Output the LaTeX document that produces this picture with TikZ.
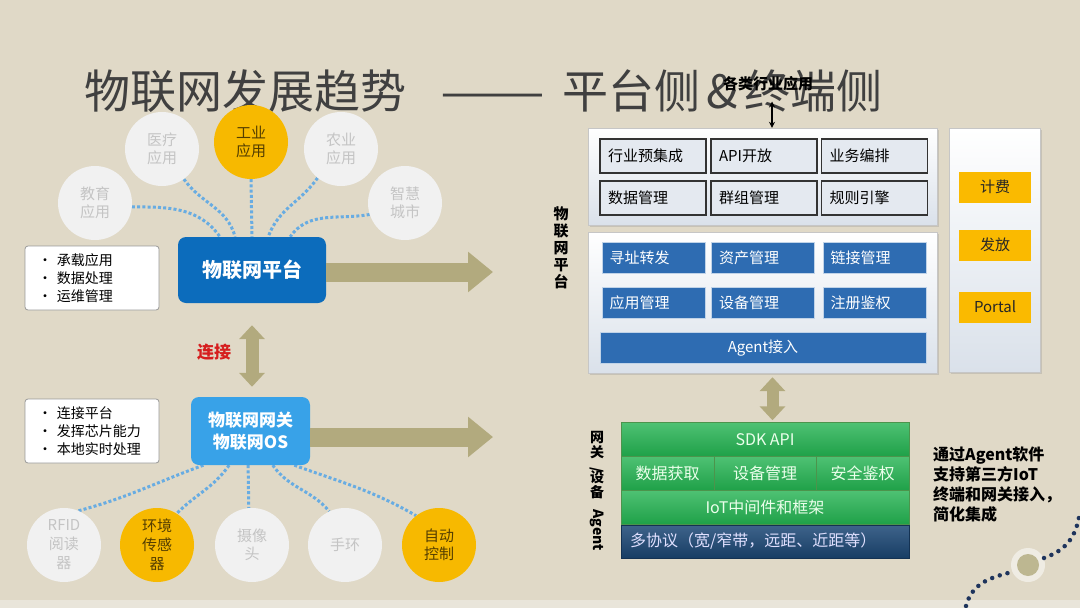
\documentclass[tikz,border=0pt]{standalone}
\usepackage{graphicx}
\usepackage{fontspec}
\setmainfont{Noto Sans CJK SC}
\usetikzlibrary{arrows.meta,shadows,backgrounds}

\definecolor{bgbeige}{RGB}{224,217,199}
\definecolor{bgstrip}{RGB}{233,229,218}
\definecolor{appgray}{RGB}{241,241,241}
\definecolor{apptext}{RGB}{196,196,196}
\definecolor{hotyellow}{RGB}{247,185,0}
\definecolor{hottext}{RGB}{84,62,0}
\definecolor{platblue}{RGB}{12,108,188}
\definecolor{gwblue}{RGB}{56,162,232}
\definecolor{linkblue}{RGB}{104,172,226}
\definecolor{khaki}{RGB}{178,170,126}
\definecolor{titlegray}{RGB}{64,64,64}
\definecolor{panelgray}{RGB}{218,225,234}
\definecolor{cellgray}{RGB}{228,233,240}
\definecolor{cellblue}{RGB}{46,108,178}
\definecolor{tagorange}{RGB}{250,186,0}
\definecolor{sdkgreen}{RGB}{34,178,80}
\definecolor{protonavy}{RGB}{28,72,118}
\definecolor{decnavy}{RGB}{30,52,92}
\definecolor{linkred}{RGB}{214,30,30}

\tikzset{
  app/.style={circle, minimum size=74pt, inner sep=0pt, fill=appgray, text=apptext,
    align=center, font=\fontsize{15}{18}\selectfont},
  apphot/.style={app, fill=hotyellow, text=hottext},
  hub/.style={rounded corners=8pt, text=white, align=center, inner sep=0pt},
  notes/.style={draw=gray!80, fill=white, rounded corners=3pt, line width=0.8pt,
    minimum width=134pt, minimum height=64pt, inner xsep=13pt, text width=108pt,
    align=left, font=\fontsize{14}{18}\selectfont},
  link/.style={draw=linkblue, line width=3pt, dash pattern=on 3pt off 2.2pt},
  bigarrow/.style={draw=khaki, line width=19pt, -{Triangle[length=25pt,width=39pt]}},
  dblarrow/.style={draw=khaki, line width=13pt,
    {Triangle[length=14pt,width=25pt]}-{Triangle[length=14pt,width=25pt]}},
  panel/.style={draw=gray!45, top color=white, bottom color=panelgray,
    drop shadow={opacity=0.25, shadow xshift=2pt, shadow yshift=-2pt}},
  cellbox/.style={draw=black!80, line width=1.2pt, fill=cellgray, minimum width=106pt,
    minimum height=34pt, text width=90pt, align=left, font=\fontsize{15}{18}\selectfont},
  bluebox/.style={draw=white!70!cellblue, fill=cellblue, text=white, minimum width=103pt,
    minimum height=31pt, text width=88pt, align=left, font=\fontsize{15}{18}\selectfont},
  tagbox/.style={fill=tagorange, text=black!85, minimum width=72pt, minimum height=31pt,
    font=\fontsize{15}{18}\selectfont},
  sdkbox/.style={draw=green!40!black!70, top color=sdkgreen!80!white, bottom color=sdkgreen!90!black,
    text=white!92!green, minimum height=34pt, font=\fontsize{16}{19}\selectfont},
}

\begin{document}
\begin{tikzpicture}[x=1pt, y=-1pt]
  \useasboundingbox (0,0) rectangle (1080,608);
  \begin{scope}[on background layer]
    \fill[bgbeige] (0,0) rectangle (1080,608);
    \fill[bgstrip] (0,600) rectangle (1080,608);
  \end{scope}

  % Title
  \node[anchor=base west, inner sep=0pt, text=titlegray, font=\fontsize{46}{50}\selectfont]
    (title) at (84,108)
    {物联网发展趋势\hspace{34pt}\scalebox{1.36}[1]{——}\hspace{17pt}平台侧\hspace{6pt}\&\hspace{7pt}终端侧};

  % Application circles
  \node[app] (edu) at (95,203) {教育\\应用};
  \node[app] (med) at (162,149) {医疗\\应用};
  \node[apphot] (ind) at (251,142) {工业\\应用};
  \node[app] (agr) at (341,149) {农业\\应用};
  \node[app] (city) at (405,203) {智慧\\城市};

  % IoT platform
  \node[hub, fill=platblue, minimum width=148pt, minimum height=66pt,
    font=\bfseries\fontsize{20}{24}\selectfont] (plat) at (252,270) {物联网平台};
  \node[notes] (platnotes) at (92,278)
    {\makebox[19pt][l]{•}承载应用\\\makebox[19pt][l]{•}数据处理\\\makebox[19pt][l]{•}运维管理};

  % Gateway
  \node[hub, fill=gwblue, minimum width=119pt, minimum height=68pt,
    font=\bfseries\fontsize{17}{22}\selectfont] (gw) at (250.5,431) {物联网网关\\物联网OS};
  \node[notes] (gwnotes) at (92,431)
    {\makebox[19pt][l]{•}连接平台\\\makebox[19pt][l]{•}发挥芯片能力\\\makebox[19pt][l]{•}本地实时处理};

  \node[text=linkred, font=\bfseries\fontsize{17}{20}\selectfont] (conn) at (214,352) {连接};

  % Device circles
  \node[app, font=\fontsize{15}{19}\selectfont] (rfid) at (64,545) {RFID\\阅读\\器};
  \node[apphot, font=\fontsize{15}{19}\selectfont] (env) at (157,545) {环境\\传感\\器};
  \node[app] (cam) at (252,545) {摄像\\头};
  \node[app] (band) at (345,545) {手环};
  \node[apphot] (auto) at (439,545) {自动\\控制};

  % Dotted links
  \begin{scope}[on background layer]
    \draw[link] (edu.354) to[out=0, in=125] (plat.134);
    \draw[link] (med.306) to[out=-55, in=105] (plat.117);
    \draw[link] (ind.south) -- (plat.north);
    \draw[link] (agr.231) to[out=235, in=70] (plat.64);
    \draw[link] (city.198) to[out=190, in=55] (plat.41);
    \draw[link] (gw.216) to[out=200, in=15] (rfid.67);
    \draw[link] (gw.238) to[out=235, in=45] (env.58);
    \draw[link] (gw.266) -- (cam.95);
    \draw[link] (gw.303) to[out=-55, in=130] (band.115);
    \draw[link] (gw.322) to[out=-20, in=150] (auto.128);
  \end{scope}

  % Big arrows
  \coordinate (platout) at (493,272);
  \coordinate (gwout) at (493,437);
  \draw[bigarrow] (plat.east |- platout) -- (platout);
  \draw[bigarrow] (gw.east |- gwout) -- (gwout);
  \draw[dblarrow, shorten <=22pt, shorten >=10pt] (plat.south) -- (plat.south |- gw.north);

  % Platform side
  \node[font=\bfseries\fontsize{15}{17}\selectfont, align=center, inner sep=0pt]
    (platlabel) at (561,248) {物\\联\\网\\平\\台};
  \node[panel, minimum width=349pt, minimum height=97pt] (upper) at (762.5,176.5) {};
  \node[panel, minimum width=349pt, minimum height=141pt] (lower) at (762.5,302.5) {};
  \node[panel, minimum width=91pt, minimum height=244pt] (side) at (994.5,250) {};

  \node[cellbox] (c11) at (653,156) {行业预集成};
  \node[cellbox] (c12) at (764,156) {API开放};
  \node[cellbox] (c13) at (874.5,156) {业务编排};
  \node[cellbox] (c21) at (653,198) {数据管理};
  \node[cellbox] (c22) at (764,198) {群组管理};
  \node[cellbox] (c23) at (874.5,198) {规则引擎};

  \node[bluebox] (b11) at (653.5,257.5) {寻址转发};
  \node[bluebox] (b12) at (763,257.5) {资产管理};
  \node[bluebox] (b13) at (874.5,257.5) {链接管理};
  \node[bluebox] (b21) at (653.5,302.5) {应用管理};
  \node[bluebox] (b22) at (763,302.5) {设备管理};
  \node[bluebox] (b23) at (874.5,302.5) {注册鉴权};
  \node[bluebox, minimum width=326pt, text width=310pt, align=center] (agent) at (763,348) {Agent接入};

  \node[tagbox] (bill) at (995,187) {计费};
  \node[tagbox] (issue) at (995,245) {发放};
  \node[tagbox] (portal) at (995,307) {Portal};

  \node[font=\bfseries\fontsize{15}{17}\selectfont, inner sep=0pt] (indapp) at (768,84) {各类行业应用};
  \draw[line width=1.5pt, {Stealth[length=6pt,width=6pt]}-{Stealth[length=6pt,width=6pt]},
    shorten <=10pt] (indapp.south -| 772,0) -- (772,0 |- upper.north);

  % Device side
  \node[sdkbox, minimum width=288pt] (sdk) at (765,439.5) {SDK API};
  \node[sdkbox, minimum width=93pt] (acq) at (667.5,473.5) {数据获取};
  \node[sdkbox, minimum width=102pt] (dev) at (765,473.5) {设备管理};
  \node[sdkbox, minimum width=93pt] (sec) at (862.5,473.5) {安全鉴权};
  \node[sdkbox, minimum width=288pt] (mid) at (765,507.5) {IoT中间件和框架};
  \node[draw=protonavy!70!black, top color=protonavy!85!white, bottom color=protonavy!85!black,
    text=white!88!blue, minimum width=288pt, minimum height=33pt, text width=270pt, align=left,
    font=\fontsize{16}{19}\selectfont] (proto) at (765,541.5) {多协议（宽/窄带，远距、近距等）};
  \draw[dblarrow, line width=12pt, shorten <=4pt, shorten >=2pt]
    ([xshift=10pt]lower.south) -- ([xshift=10pt]lower.south |- sdk.north);

  \node[font=\bfseries\fontsize{14}{15}\selectfont, align=center, inner sep=0pt] (gwlabel) at (597,491)
    {网\\关\\[-5pt]\rotatebox{-90}{/}\\[-3pt]设\\备\\[-3pt]\rotatebox{-90}{Agent}};

  \node[anchor=north west, inner sep=0pt, align=left, font=\bfseries\fontsize{16}{20}\selectfont]
    (agentnote) at (933,447) {通过Agent软件\\支持第三方IoT\\终端和网关接入，\\简化集成};

  % Corner decoration
  \fill[white, opacity=0.5] (1028,565) circle (17);
  \fill[khaki!85!white] (1028,565) circle (11);
  \draw[decnavy, line width=4.5pt, line cap=round, dash pattern=on 0pt off 8pt]
    (966,606) .. controls (972,584) and (988,578) .. (1012,572);
  \draw[decnavy, line width=4.5pt, line cap=round, dash pattern=on 0pt off 8pt]
    (1044,558) .. controls (1066,550) and (1076,538) .. (1080,512);
\end{tikzpicture}
\end{document}
